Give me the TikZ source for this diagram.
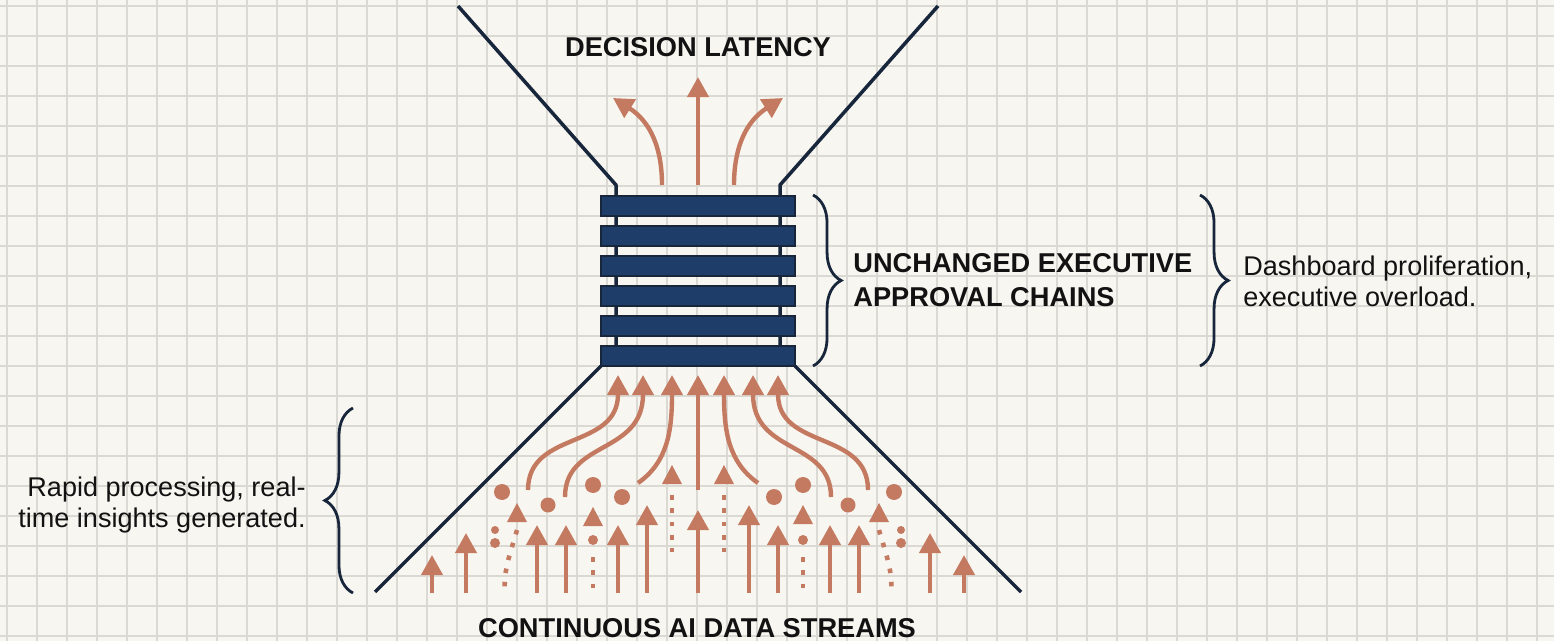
\documentclass[tikz,border=0pt]{standalone}
\usepackage{fontspec}
\setmainfont{Liberation Sans}
\usetikzlibrary{arrows.meta,decorations.pathreplacing}
\definecolor{PaperClr}{rgb}{0.973,0.965,0.941}
\definecolor{GridClr}{rgb}{0.855,0.85,0.83}
\definecolor{FunnelClr}{rgb}{0.09,0.15,0.23}
\definecolor{BarClr}{rgb}{0.12,0.24,0.41}
\definecolor{FlowClr}{rgb}{0.77,0.48,0.38}
\definecolor{InkClr}{rgb}{0.07,0.07,0.07}

\tikzset{
  flow/.style={FlowClr,line width=2.5pt,-{Triangle[width=12pt,length=11.5pt]}},
  trail/.style={FlowClr,line width=2.6pt,dash pattern=on 2.6pt off 5pt},
  funnel/.style={FunnelClr,line width=2pt,line join=round},
  heading/.style={InkClr,font=\bfseries\fontsize{15.5}{19}\selectfont,inner sep=0pt},
  remark/.style={InkClr,font=\fontsize{15.4}{17.5}\selectfont,inner sep=0pt},
  bracket/.style={FunnelClr,line width=1.6pt,decorate,decoration={brace,amplitude=16pt}},
  pics/flowhead/.style={code={\fill[FlowClr] (-10,19) -- (0,0) -- (10,19) -- cycle;}}
}

\begin{document}
\begin{tikzpicture}[x=0.02cm,y=-0.02cm]
\useasboundingbox (0,0) rectangle (1554,641);
\fill[PaperClr] (0,0) rectangle (1554,641);
\foreach \gx in {7,37,...,1554} \draw[GridClr,line width=0.8pt] (\gx,0) -- (\gx,641);
\foreach \gy in {6,36,...,641} \draw[GridClr,line width=0.8pt] (0,\gy) -- (1554,\gy);

% funnel and approval chain
\draw[funnel] (458,6) -- (616,185) -- (616,366);
\draw[funnel] (938,6) -- (780,185) -- (780,366);
\draw[funnel] (601,366) -- (375,592);
\draw[funnel] (795,366) -- (1021,592);
\foreach \by in {196,226,...,346}
  \draw[FunnelClr,fill=BarClr,line width=1.6pt] (601,\by) rectangle (795,\by+20);

% output
\draw[flow] (698,185) -- (698,77);
\draw[flow] (662,185) .. controls (662,140) and (645,118) .. (613,98);
\draw[flow] (734,185) .. controls (734,140) and (751,118) .. (783,98);

% streams into the chain
\draw[flow] (528,490) .. controls (528,430) and (618,450) .. (618,375);
\draw[flow] (565,497) .. controls (565,440) and (643,455) .. (643,375);
\draw[flow] (638,483) .. controls (668,462) and (672,430) .. (672,375);
\draw[flow] (698,490) -- (698,375);
\draw[flow] (758,483) .. controls (728,462) and (724,430) .. (724,375);
\draw[flow] (831,497) .. controls (831,440) and (753,455) .. (753,375);
\draw[flow] (868,490) .. controls (868,430) and (778,450) .. (778,375);

\foreach \ax/\tip in {432/555,466/533,537/525,566/525,618/525,647/505,698/510,
                      749/505,778/525,830/525,859/525,930/533,964/555}
  \draw[flow] (\ax,593) -- (\ax,\tip);

\foreach \dx/\dy/\r in {502/492/8,548/505/7.5,593/485/8,622/497/8,774/497/8,803/485/8,
                        848/505/7.5,894/492/8,495/530/4,495/543/5,901/530/4,901/543/5,
                        593/540/5,803/540/5}
  \fill[FlowClr] (\dx,\dy) circle[radius=\r];

\pic at (593,507) {flowhead}; \draw[trail] (593,557) -- (593,595);
\pic at (803,505) {flowhead}; \draw[trail] (803,557) -- (803,595);
\pic at (672,465) {flowhead}; \draw[trail] (672,495) -- (672,552);
\pic at (724,465) {flowhead}; \draw[trail] (724,495) -- (724,552);
\pic at (517,503) {flowhead}; \draw[trail] (517,530) .. controls (510,555) and (503,570) .. (505,595);
\pic at (879,503) {flowhead}; \draw[trail] (879,530) .. controls (886,555) and (893,570) .. (891,595);

% braces and labels
\draw[bracket] (813,195) -- (813,366);
\draw[bracket] (1200,195) -- (1200,366);
\draw[bracket] (353,593) -- (353,408);

\node[heading] (latency) at (698,47) {DECISION LATENCY};
\node[heading] (streams) at (697,628) {CONTINUOUS AI DATA STREAMS};
\node[heading,anchor=west,align=left] (chains) at (853,280) {UNCHANGED EXECUTIVE\\APPROVAL CHAINS};
\node[remark,anchor=west,align=left] (overload) at (1243,281) {Dashboard proliferation,\\executive overload.};
\node[remark,anchor=east,align=right] (insights) at (306,505) {Rapid processing, real-\\time insights generated.};
\end{tikzpicture}
\end{document}
